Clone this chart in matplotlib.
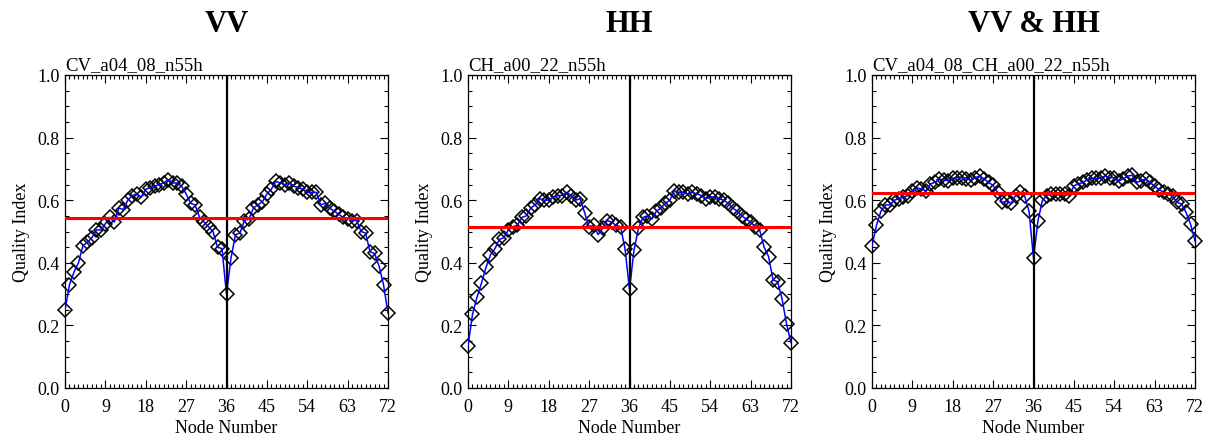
import numpy as np
import matplotlib
matplotlib.use("Agg")
import matplotlib.pyplot as plt
from matplotlib.ticker import MultipleLocator, FormatStrFormatter

plt.rcParams['font.family'] = ['Liberation Serif', 'DejaVu Serif']

nodes = list(range(73))

vv_values = [0.25, 0.33, 0.37, 0.40, 0.455, 0.465, 0.48, 0.505, 0.505, 0.525,
             0.545, 0.53, 0.575, 0.57, 0.60, 0.615, 0.62, 0.61, 0.635, 0.64,
             0.645, 0.65, 0.655, 0.665, 0.655, 0.655, 0.645, 0.62, 0.59, 0.585,
             0.545, 0.53, 0.515, 0.50, 0.45, 0.445, 0.30,
             0.415, 0.49, 0.495, 0.535, 0.54, 0.575, 0.585, 0.595, 0.62, 0.635,
             0.66, 0.655, 0.65, 0.655, 0.645, 0.64, 0.635, 0.625, 0.625, 0.625,
             0.585, 0.59, 0.575, 0.565, 0.555, 0.545, 0.54, 0.535, 0.535, 0.50,
             0.495, 0.435, 0.43, 0.39, 0.33, 0.24]

hh_values = [0.135, 0.235, 0.29, 0.335, 0.385, 0.425, 0.445, 0.475, 0.48, 0.505,
             0.515, 0.52, 0.545, 0.55, 0.575, 0.585, 0.605, 0.60, 0.60, 0.61,
             0.615, 0.615, 0.625, 0.615, 0.60, 0.605, 0.56, 0.515, 0.52, 0.49,
             0.51, 0.535, 0.53, 0.52, 0.515, 0.445, 0.315,
             0.44, 0.51, 0.545, 0.55, 0.54, 0.565, 0.575, 0.59, 0.60, 0.63,
             0.625, 0.625, 0.62, 0.625, 0.62, 0.615, 0.605, 0.61, 0.61, 0.605,
             0.60, 0.59, 0.575, 0.565, 0.55, 0.54, 0.53, 0.515, 0.505, 0.45,
             0.42, 0.345, 0.34, 0.285, 0.205, 0.145]

vvhh_values = [0.455, 0.52, 0.565, 0.585, 0.585, 0.60, 0.605, 0.61, 0.615, 0.63,
               0.64, 0.635, 0.63, 0.652, 0.657, 0.668, 0.665, 0.662, 0.67, 0.672,
               0.672, 0.668, 0.665, 0.672, 0.677, 0.668, 0.657, 0.647, 0.625, 0.593,
               0.596, 0.59, 0.615, 0.625, 0.615, 0.565, 0.415,
               0.535, 0.60, 0.615, 0.62, 0.62, 0.62, 0.62, 0.615, 0.646, 0.652,
               0.657, 0.665, 0.67, 0.67, 0.672, 0.677, 0.672, 0.672, 0.662, 0.668,
               0.677, 0.68, 0.657, 0.662, 0.668, 0.657, 0.644, 0.634, 0.625, 0.62,
               0.612, 0.593, 0.588, 0.561, 0.524, 0.47]

mean_lines = [0.542, 0.513, 0.623]
titles = ["VV", "HH", "VV & HH"]
subtitles = ["CV_a04_08_n55h", "CH_a00_22_n55h", "CV_a04_08_CH_a00_22_n55h"]
series = [vv_values, hh_values, vvhh_values]
center_node = 36

fig = plt.figure(figsize=(12.12, 4.39), dpi=100)
lefts = [65 / 1212, 468 / 1212, 872 / 1212]
width = 323 / 1212
bottom = 1 - 389 / 439
height = (389 - 76) / 439

for i in range(3):
    ax = fig.add_axes([lefts[i], bottom, width, height])
    ax.plot(nodes, series[i], linestyle='none', marker='D', markersize=7.5,
            markerfacecolor='none', markeredgecolor='black', markeredgewidth=1.1,
            zorder=2, clip_on=False)
    ax.plot(nodes, series[i], color='#0000ff', linewidth=1.1, zorder=3)
    ax.axvline(center_node, color='black', linewidth=1.6, zorder=4)
    ax.axhline(mean_lines[i], color='#ff0000', linewidth=2.2, zorder=5)
    ax.set_xlim(0, 72)
    ax.set_ylim(0, 1)
    ax.xaxis.set_major_locator(MultipleLocator(9))
    ax.xaxis.set_minor_locator(MultipleLocator(1))
    ax.yaxis.set_major_locator(MultipleLocator(0.2))
    ax.yaxis.set_minor_locator(MultipleLocator(0.05))
    ax.yaxis.set_major_formatter(FormatStrFormatter('%.1f'))
    ax.tick_params(which='both', direction='in', top=True, right=True,
                   labelsize=13, width=0.8)
    ax.tick_params(which='major', length=6)
    ax.tick_params(which='minor', length=3)
    ax.tick_params(axis='x', pad=7)
    ax.tick_params(axis='y', pad=4)
    for s in ax.spines.values():
        s.set_linewidth(0.9)
    ax.set_xlabel("Node Number", fontsize=13, labelpad=3)
    ax.set_ylabel("Quality Index", fontsize=13, labelpad=5)
    ax.text(0.0, 1.005, subtitles[i], transform=ax.transAxes, fontsize=13.5,
            ha='left', va='bottom')
    ax.text(0.5, 1.163, titles[i], transform=ax.transAxes, fontsize=22,
            fontweight='bold', ha='center', va='center')

fig.savefig("out.png", dpi=100)
